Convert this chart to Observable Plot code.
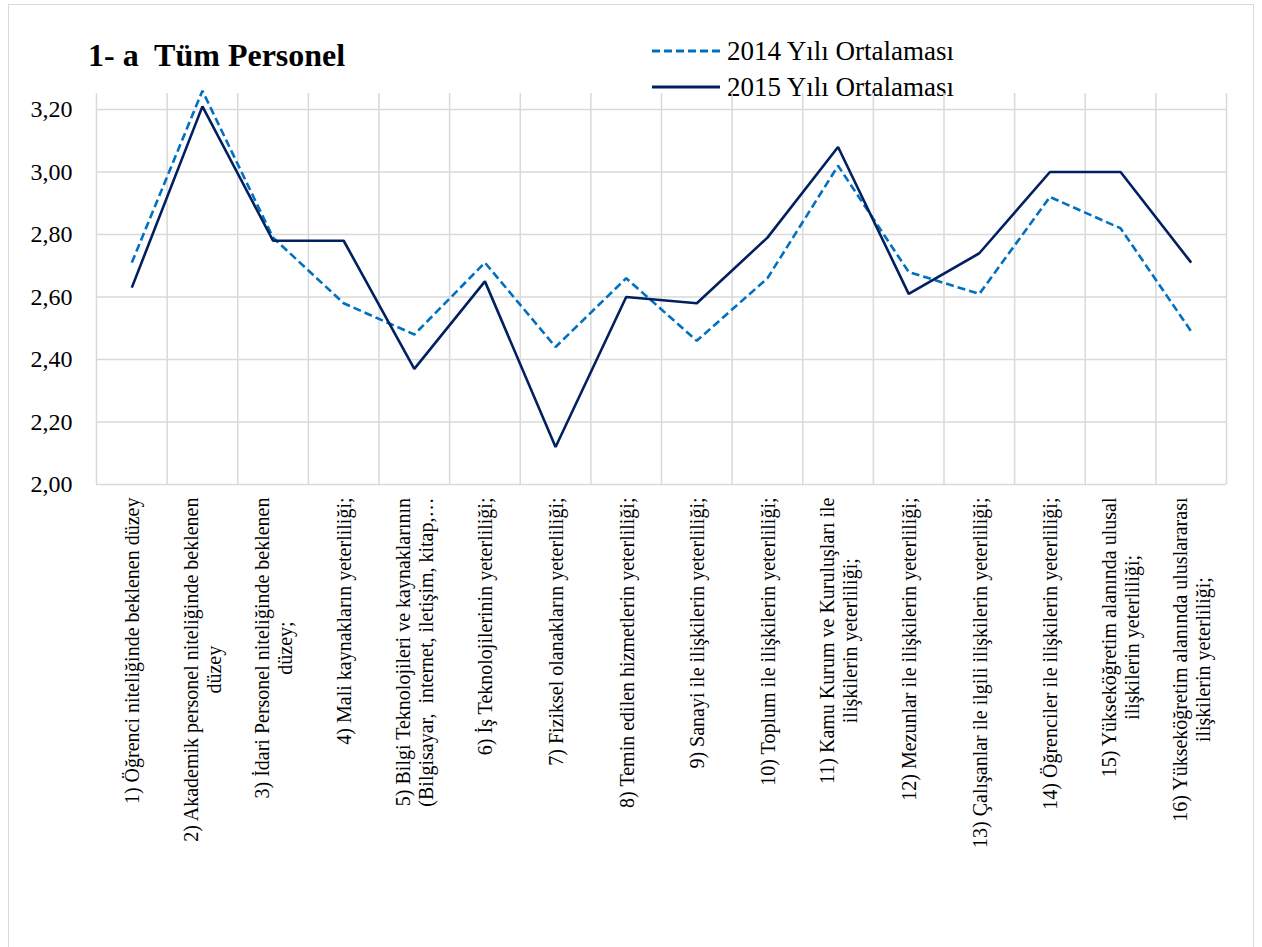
<!DOCTYPE html>
<html>
<head>
<meta charset="utf-8">
<script src="https://cdn.jsdelivr.net/npm/d3@7"></script>
<script src="https://cdn.jsdelivr.net/npm/@observablehq/plot@0.6"></script>
<style>
  body { margin: 0; background: #fff; }
  #wrap { position: relative; width: 1262px; height: 947px; overflow: hidden; font-family: 'Liberation Serif', 'Times New Roman', 'DejaVu Serif'; }
  #frame { position: absolute; left: 8px; top: 4px; width: 1246px; height: 1000px; border: 1.5px solid #d9d9d9; box-sizing: border-box; }
  #header { position: relative; height: 90px; }
  #title { position: absolute; left: 88px; top: 39px; font-family: 'Liberation Serif'; font-size: 32px; font-weight: bold; line-height: 1; white-space: pre; color: #000; }
  .lg { position: absolute; left: 652px; height: 34px; display: flex; align-items: center; font-family: 'Liberation Serif'; font-size: 27px; color: #000; white-space: pre; }
  .lg svg { margin-right: 7px; }
  #chart { position: relative; }
</style>
</head>
<body>
<div id="wrap">
  <div id="frame"></div>
  <div id="header">
    <div id="title">1- a  Tüm Personel</div>
    <div id="legend"></div>
  </div>
  <div id="chart"></div>
</div>
<script>
const categories = [
  "1) Öğrenci niteliğinde beklenen düzey",
  "2) Akademik personel niteliğinde beklenen\ndüzey",
  "3) İdari Personel niteliğinde beklenen\ndüzey;",
  "4) Mali kaynakların yeterliliği;",
  "5) Bilgi Teknolojileri ve kaynaklarının\n(Bilgisayar,  internet, iletişim, kitap,…",
  "6) İş Teknolojilerinin yeterliliği;",
  "7) Fiziksel olanakların yeterliliği;",
  "8) Temin edilen hizmetlerin yeterliliği;",
  "9) Sanayi ile ilişkilerin yeterliliği;",
  "10) Toplum ile ilişkilerin yeterliliği;",
  "11) Kamu Kurum ve Kuruluşları ile\nilişkilerin yeterliliği;",
  "12) Mezunlar ile ilişkilerin yeterliliği;",
  "13) Çalışanlar ile ilgili ilişkilerin yeterliliği;",
  "14) Öğrenciler ile ilişkilerin yeterliliği;",
  "15) Yükseköğretim alanında ulusal\nilişkilerin yeterliliği;",
  "16) Yükseköğretim alanında uluslararası\nilişkilerin yeterliliği;"
];
const values2014 = [2.71, 3.26, 2.79, 2.58, 2.48, 2.71, 2.44, 2.66, 2.46, 2.66, 3.02, 2.68, 2.61, 2.92, 2.82, 2.49];
const values2015 = [2.63, 3.21, 2.78, 2.78, 2.37, 2.65, 2.12, 2.60, 2.58, 2.79, 3.08, 2.61, 2.74, 3.00, 3.00, 2.71];
const yTicks = [2.0, 2.2, 2.4, 2.6, 2.8, 3.0, 3.2];
const seriesNames = ["2014 Yılı Ortalaması", "2015 Yılı Ortalaması"];
const seriesColors = ["#0070C0", "#002060"];
const seriesDash = ["8,4", null];
const FONT = "'Liberation Serif', 'Times New Roman', 'DejaVu Serif'";

const rows = categories.map((c, i) => ({i, c, v14: values2014[i], v15: values2015[i]}));

// legend
const legend = document.getElementById("legend");
seriesNames.forEach((name, k) => {
  const row = document.createElement("div");
  row.className = "lg";
  row.style.top = (34 + k * 36) + "px";
  const s = d3.create("svg").attr("width", 68).attr("height", 6);
  s.append("line").attr("x1", 0).attr("x2", 68).attr("y1", 3).attr("y2", 3)
    .attr("stroke", seriesColors[k]).attr("stroke-width", 3)
    .attr("stroke-dasharray", seriesDash[k]);
  row.appendChild(s.node());
  const t = document.createElement("span");
  t.textContent = name;
  row.appendChild(t);
  legend.appendChild(row);
});

const H = 857;
const plot = Plot.plot({
  width: 1262,
  height: H,
  marginLeft: 96,
  marginRight: 36,
  marginTop: 3,
  marginBottom: H - 394,
  x: {domain: [0, categories.length], axis: null},
  y: {domain: [2, 3.2512], axis: null},
  style: {fontFamily: FONT, background: "transparent", color: "#000"},
  marks: [
    Plot.gridX(d3.range(categories.length + 1), {stroke: "#d9d9d9", strokeOpacity: 1, strokeWidth: 1.5}),
    Plot.gridY(yTicks, {stroke: "#d9d9d9", strokeOpacity: 1, strokeWidth: 1.5}),
    Plot.axisY(yTicks, {tickSize: 0, tickPadding: 24, fontSize: 24, fontFamily: FONT, fill: "#000",
      tickFormat: d => d.toFixed(2).replace(".", ",")}),
    Plot.line(rows, {x: d => d.i + 0.5, y: "v14", stroke: seriesColors[0], strokeWidth: 2.6,
      strokeDasharray: seriesDash[0], strokeLinecap: "butt", strokeLinejoin: "miter"}),
    Plot.line(rows, {x: d => d.i + 0.5, y: "v15", stroke: seriesColors[1], strokeWidth: 2.6,
      strokeLinecap: "butt", strokeLinejoin: "miter"}),
    Plot.text(rows, {x: d => d.i + 0.5, text: "c", frameAnchor: "bottom", dy: 13, rotate: -90,
      textAnchor: "end", lineAnchor: "middle", fontSize: 20, fontFamily: FONT, lineHeight: 1.15, fill: "#000"})
  ]
});
document.getElementById("chart").appendChild(plot);

// center the wrapped lines of each category label on its longest line
plot.querySelectorAll('g[aria-label="text"] text').forEach(t => {
  const spans = t.querySelectorAll("tspan");
  if (!spans.length) return;
  let L = 0;
  spans.forEach(s => { L = Math.max(L, s.getComputedTextLength()); });
  t.setAttribute("text-anchor", "middle");
  spans.forEach(s => s.setAttribute("x", -L / 2));
});
</script>
</body>
</html>
